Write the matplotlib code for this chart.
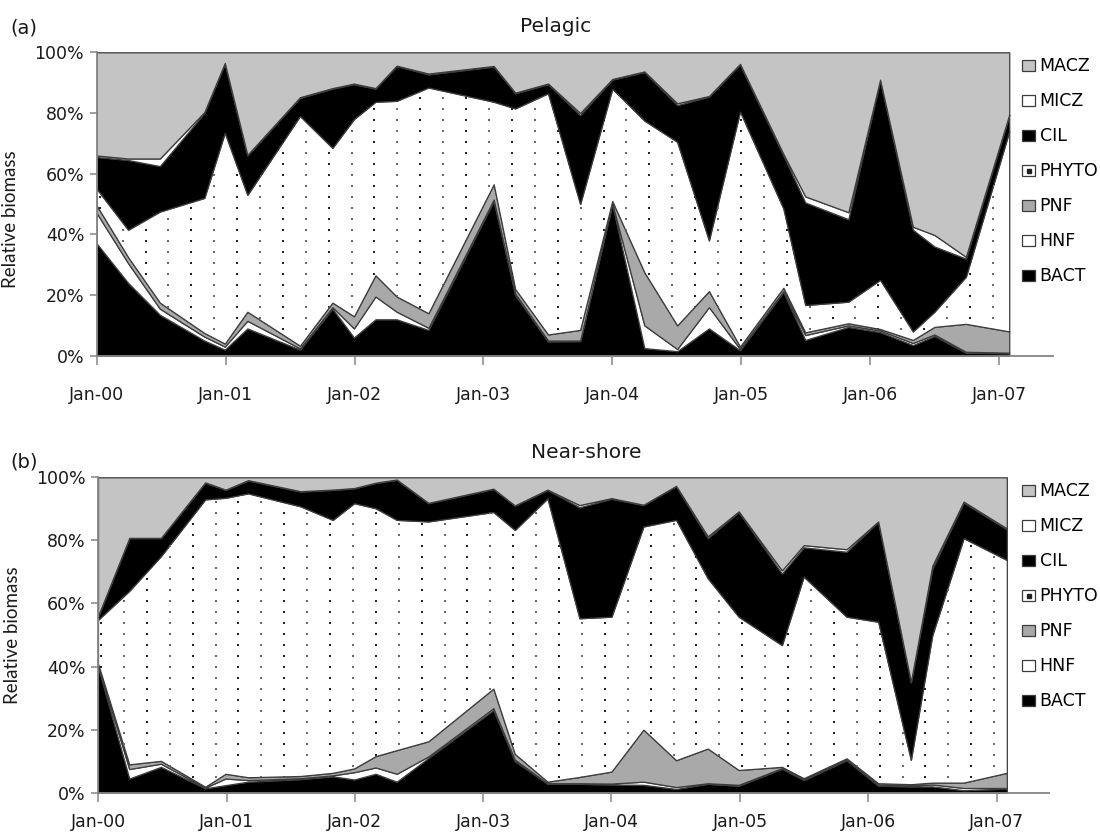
import numpy as np
import pandas as pd
import matplotlib.pyplot as plt
import matplotlib.dates as mdates
from matplotlib.lines import Line2D
from matplotlib.ticker import PercentFormatter, MultipleLocator

plt.rcParams['font.family'] = ['DejaVu Sans']

# sampling dates (shared by both stations)
dates = pd.to_datetime([
    "2000-01-01", "2000-03-30", "2000-06-28", "2000-11-01", "2000-12-29",
    "2001-03-03", "2001-07-30", "2001-10-30", "2001-12-30", "2002-03-01",
    "2002-04-30", "2002-07-29", "2003-01-30", "2003-04-01", "2003-07-03",
    "2003-10-02", "2004-01-01", "2004-04-01", "2004-07-03", "2004-10-01",
    "2004-12-28", "2005-04-30", "2005-07-01", "2005-10-31", "2006-01-29",
    "2006-05-02", "2006-07-02", "2006-09-29", "2007-01-30"])

groups = ["BACT", "HNF", "PNF", "PHYTO", "CIL", "MICZ", "MACZ"]

# (a) pelagic, relative biomass (%)
pel_bact = [37, 24, 13.5, 5, 2, 9, 2, 15.5, 6, 12, 12, 8.5, 51, 20, 4.7,
            4.8, 50, 2.5, 1.5, 9, 1.8, 21, 5.2, 9.5, 7.8, 3.5, 6.5, 1, 0.8]
pel_hnf = [10, 6.5, 2, 1.3, 1, 2.5, 0.4, 0.5, 3, 7.5, 2.5, 0.7, 0.5, 0.5, 0.3,
           0.2, 0.3, 7.5, 0.7, 7, 0.4, 0.3, 1.6, 0.5, 0.5, 0.7, 0.5, 0.3, 0.2]
pel_pnf = [2.5, 2, 2, 1.2, 1, 3, 0.9, 1.5, 4, 7, 5, 4.8, 5, 1.5, 2,
           3.5, 0.7, 17.5, 7.8, 5.3, 0.8, 1.1, 0.9, 0.7, 0.5, 1, 2.5, 9.2, 7]
pel_phyto = [5.5, 9, 30, 44.5, 69.5, 38.5, 75.7, 51, 65, 57.2, 64.5, 74.4, 27.2, 59.5, 79.5,
             41.5, 37, 50, 60.5, 16.7, 77.5, 26.1, 9, 7.1, 16.2, 2.8, 5, 15.5, 66]
pel_cil = [10.5, 23, 15, 28, 22.8, 13, 6, 19.5, 11.5, 4.3, 11.5, 4.3, 11.6, 5, 3,
           29.3, 3, 16, 12.1, 47.4, 15.5, 17.5, 33.8, 27.2, 65.8, 33.5, 21.5, 6, 5.3]
pel_micz = [0.5, 0.5, 2.5, 0.3, 0.2, 0.2, 0.2, 0.2, 0.2, 0.2, 0.1, 0.3, 0.2, 0.2, 0.2,
            0.7, 0.2, 0.2, 0.6, 0.2, 0.2, 0.5, 2, 2.3, 0.2, 1, 3.8, 0.6, 0.2]
pel_macz = [34, 35, 35, 19.7, 3.5, 33.8, 14.8, 11.8, 10.3, 11.8, 4.4, 7, 4.5, 13.3, 10.3,
            20, 8.8, 6.3, 16.8, 14.4, 3.8, 33.5, 47.5, 52.7, 9, 57.5, 60.2, 67.4, 20.5]

# (b) near-shore, relative biomass (%)
ns_bact = [40, 4.5, 8.2, 1.4, 2.4, 3.5, 4.3, 5.2, 4.2, 6, 3.5, 11, 26.2, 10, 2.8,
           2.8, 2.6, 2.5, 1.2, 2.8, 2.2, 7.6, 4, 10.3, 2.2, 2, 2, 0.8, 1.3]
ns_hnf = [0.5, 3, 1, 0.2, 2.1, 0.5, 0.3, 0.3, 2.3, 2, 2.5, 0.5, 0.6, 0.5, 0.2,
          0.2, 0.3, 1, 0.6, 0.2, 0.3, 0.2, 0.3, 0.3, 0.3, 0.3, 0.6, 0.7, 0.2]
ns_pnf = [0.5, 1.5, 0.9, 0.3, 1.5, 0.9, 0.7, 0.8, 1.2, 3.6, 7.5, 4.8, 6.2, 1.8, 0.5,
          2, 3.8, 16.5, 8.5, 11, 4.7, 0.4, 0.3, 0.3, 0.5, 0.4, 0.6, 1.7, 4.8]
ns_phyto = [13.8, 55, 64.9, 91.1, 87.5, 90, 85.5, 80.2, 84.1, 78.6, 73, 69.7, 56, 71, 89.8,
            50.3, 49.1, 64.4, 76.2, 54, 48.6, 38.6, 63.9, 44.9, 51.2, 7.7, 46.8, 77.5, 67.5]
ns_cil = [1, 16.7, 5.7, 5.3, 2.5, 4.1, 4.7, 9.5, 4.7, 8, 12.7, 5.8, 7.3, 7.7, 2.7,
          35.2, 37.4, 6.8, 10.7, 12.7, 33.2, 22.7, 9.3, 20.6, 31.7, 24.6, 21, 11.3, 9.7]
ns_micz = [0.2, 0.1, 0.1, 0.1, 0.1, 0.1, 0.1, 0.1, 0.1, 0.1, 0.1, 0.1, 0.1, 0.1, 0.1,
           0.7, 0.2, 0.1, 0.1, 0.6, 0.2, 1, 0.7, 0.8, 0.1, 0.2, 1, 0.3, 0.3]
ns_macz = [44, 19.2, 19.2, 1.6, 3.9, 0.9, 4.4, 3.9, 3.4, 1.7, 0.7, 8.1, 3.6, 8.9, 3.9,
           8.8, 6.6, 8.7, 2.7, 18.7, 10.8, 29.5, 21.5, 22.8, 14, 64.8, 28, 7.7, 16.2]

colors = ["black", "white", "#a9a9a9", "white", "black", "white", "#c4c4c4"]
edge = "#3c3c3c"
axcol = "#858585"
txt = "#1a1a1a"

W, H = 1100, 833
fig = plt.figure(figsize=(W / 100, H / 100), dpi=100)
ax1 = fig.add_axes([96.7 / W, 1 - 355.7 / H, (1053 - 96.7) / W, 303.4 / H])
ax2 = fig.add_axes([98 / W, 1 - 792.7 / H, (1049 - 98) / W, 315.4 / H])

panels = [
    (ax1, [pel_bact, pel_hnf, pel_pnf, pel_phyto, pel_cil, pel_micz, pel_macz],
     "2007-06-03", 15.5, 0.45, 1022),
    (ax2, [ns_bact, ns_hnf, ns_pnf, ns_phyto, ns_cil, ns_micz, ns_macz],
     "2007-05-30", 8, 0.5, 1022),
]

for ax, series, xmax, xpad, ylab_y, leg_x in panels:
    polys = ax.stackplot(dates, *series, labels=groups, colors=colors,
                         edgecolor=edge, linewidth=0.9)
    ax.set_ylim(0, 100)
    ax.set_xlim(pd.Timestamp("2000-01-01"), pd.Timestamp(xmax))

    # sparse dot pattern for the PHYTO layer, clipped to its polygon
    pos = ax.get_position()
    wpx, hpx = pos.width * W, pos.height * H
    gx, gy = np.meshgrid(np.arange(3, wpx, 22.9), np.arange(5, hpx, 11))
    bold = (np.round((gx - 3) / 22.9) % 2) == 0
    for mask, col, sz in [(bold, "#222222", 4.0), (~bold, "#6a6a6a", 2.6)]:
        sc = ax.scatter(gx[mask] / wpx, gy[mask] / hpx, s=sz, marker="s",
                        color=col, linewidths=0, transform=ax.transAxes, zorder=2.5)
        sc.set_clip_path(polys[3].get_paths()[0], ax.transData)

    ax.yaxis.set_major_locator(MultipleLocator(20))
    ax.yaxis.set_major_formatter(PercentFormatter(decimals=0))
    ax.xaxis.set_major_locator(mdates.YearLocator())
    ax.xaxis.set_major_formatter(mdates.DateFormatter("%b-%y"))
    for s in ["top", "right"]:
        ax.spines[s].set_visible(False)
    for s in ["left", "bottom"]:
        ax.spines[s].set_color(axcol)
        ax.spines[s].set_linewidth(1.3)
        ax.spines[s].set_zorder(3)
    ax.tick_params(axis="y", direction="out", length=5, width=1.1, color=axcol,
                   pad=4, labelsize=12.5, labelcolor=txt)
    ax.tick_params(axis="x", direction="out", length=6.5, width=1.1, color=axcol,
                   pad=xpad, labelsize=12.5, labelcolor=txt)
    ax.set_ylabel("Relative biomass", fontsize=13.5, color=txt, family="Lato")
    ax.yaxis.set_label_coords(-0.081, ylab_y)

    phyto_handle = (polys[3], Line2D([], [], ls="", marker="s", ms=2.2, color="#222222"))
    handles = [polys[6], polys[5], polys[4], phyto_handle, polys[2], polys[1], polys[0]]
    fs_px = 12.5 * 100 / 72
    ax.legend(handles, groups[::-1], loc="upper left",
              bbox_to_anchor=((leg_x - pos.x0 * W) / wpx, 1 - 5 / hpx),
              frameon=False, fontsize=12.5, handlelength=13.4 / fs_px,
              handleheight=10 / fs_px, handletextpad=0.25, labelspacing=0.98,
              borderpad=0, borderaxespad=0)

fig.text(10 / W, 1 - 28 / H, "(a)", fontsize=14, va="center", color=txt)
fig.text(556 / W, 1 - 27 / H, "Pelagic", fontsize=14.5, ha="center", va="center", color=txt)
fig.text(10 / W, 1 - 462 / H, "(b)", fontsize=14, va="center", color=txt)
fig.text(586 / W, 1 - 452 / H, "Near-shore", fontsize=14.5, ha="center", va="center",
         color=txt)

fig.savefig("out.png", dpi=100)
